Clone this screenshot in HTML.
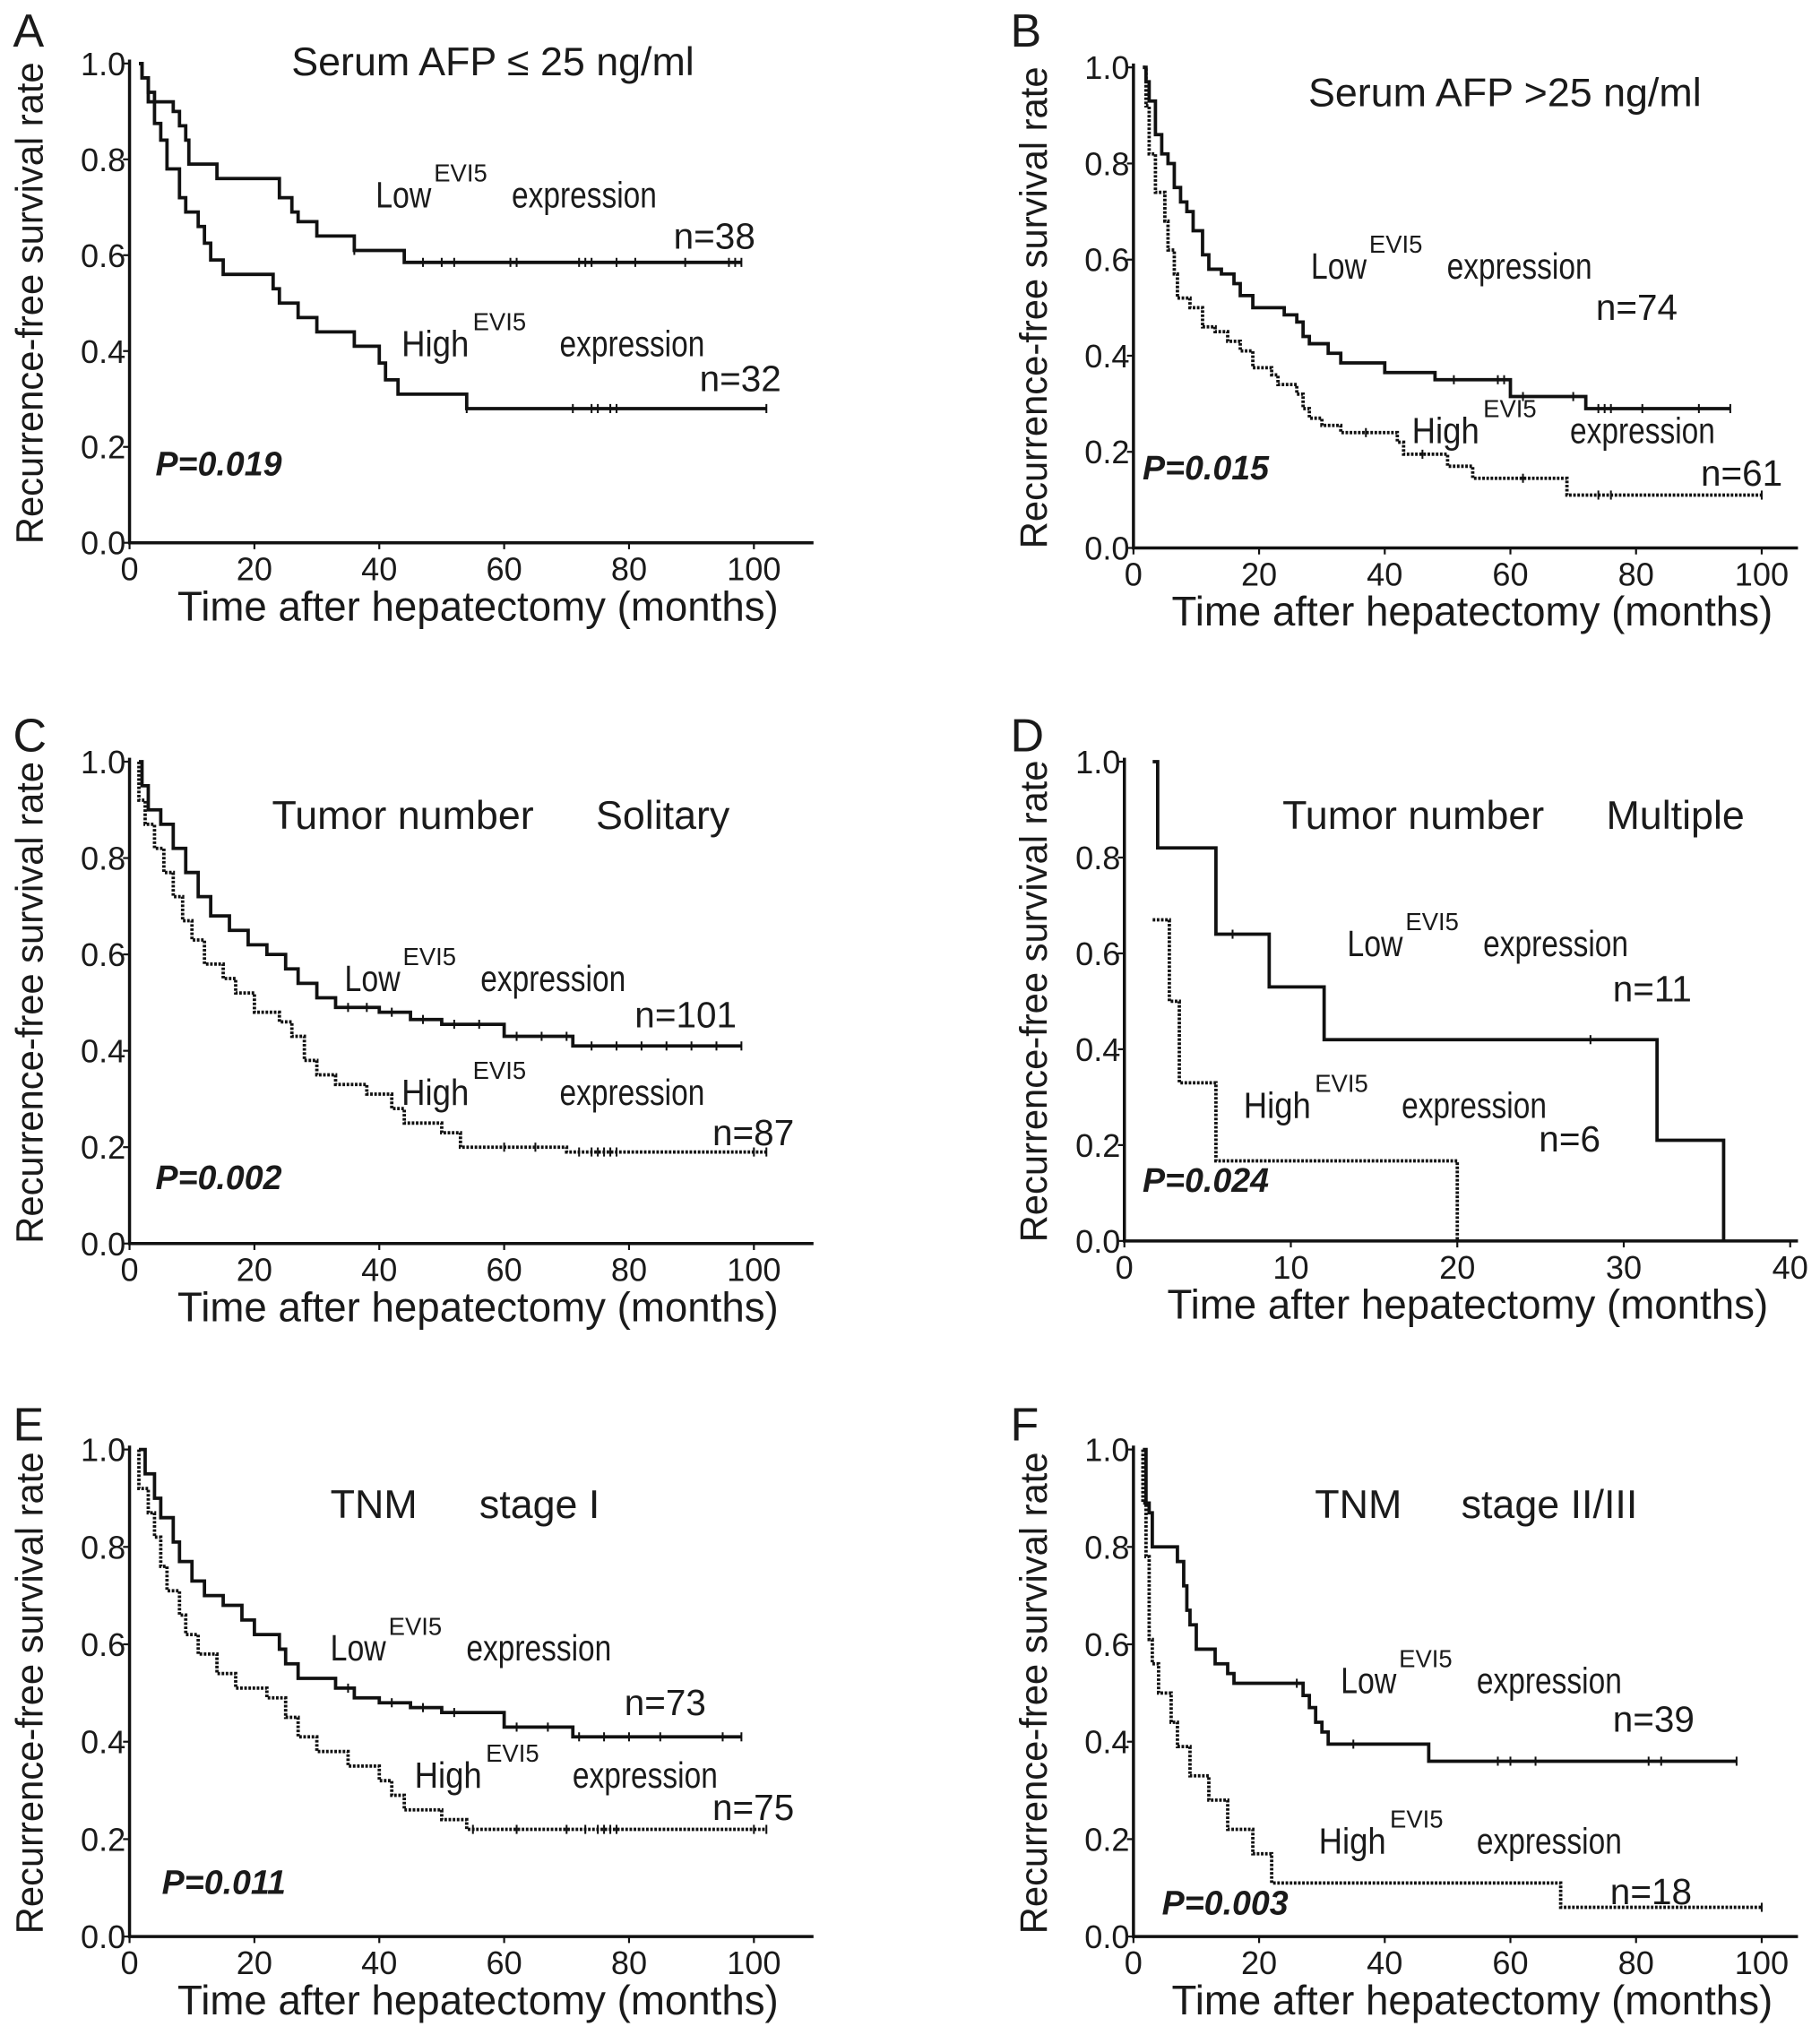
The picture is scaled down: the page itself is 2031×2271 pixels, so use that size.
<!DOCTYPE html>
<html><head><meta charset="utf-8">
<style>
html,body{margin:0;padding:0;background:#fff;}
svg{display:block;}
text{font-family:"Liberation Sans",Arial,sans-serif;fill:#1a1a1a;}
</style></head>
<body>
<svg id="fig" width="2031" height="2271" viewBox="0 0 1405 1571" xmlns="http://www.w3.org/2000/svg"></svg>
<script>
// ---------- DATA ----------
const xTicks100 = [0,20,40,60,80,100];
const xTicks40 = [0,10,20,30,40];
const yTicks = [0.0,0.2,0.4,0.6,0.8,1.0];
const yTickLabels = ["0.0","0.2","0.4","0.6","0.8","1.0"];

const aLowT = [1.5,2,3,7,8,9,9.5,14,24,26,27,30,36,44];
const aLowS = [1.0,0.97,0.92,0.9,0.87,0.84,0.79,0.76,0.72,0.69,0.67,0.64,0.61,0.585];
const aLowEnd = 98;
const aLowCens = [36,47,50,52,61,62,72,73,74,78,81,89,96,97,98];
const aHighT = [1.5,2,3,4,5,6,8,9,11,12,13,15,23,24,27,30,36,40,41,43,54];
const aHighS = [1.0,0.97,0.94,0.875,0.84,0.78,0.72,0.69,0.66,0.625,0.59,0.56,0.53,0.5,0.47,0.44,0.41,0.375,0.34,0.31,0.28];
const aHighEnd = 102;
const aHighCens = [54,71,74,75,77,78,102];

const bLowT = [1.5,2,2.5,3.5,4.5,5.5,6.5,7.5,8.5,9.5,11,12,14,16,17,19,24,26,27,28,31,33,40,48,60,72];
const bLowS = [1.0,0.97,0.93,0.86,0.82,0.8,0.75,0.72,0.7,0.66,0.61,0.58,0.57,0.55,0.525,0.5,0.485,0.47,0.44,0.425,0.405,0.385,0.365,0.35,0.315,0.29];
const bLowEnd = 95;
const bLowCens = [51,58,59,62,70,74,75,76,81,90,95];
const bHighT = [1.5,2,2.5,3.5,5,5.5,6.5,7,9,11,13,15,17,19,22,23,26,27,28,30,33,42,43,50,54,69];
const bHighS = [1.0,0.92,0.82,0.74,0.68,0.62,0.57,0.52,0.5,0.46,0.45,0.43,0.41,0.375,0.36,0.34,0.32,0.29,0.27,0.255,0.24,0.22,0.195,0.17,0.145,0.11];
const bHighEnd = 100;
const bHighCens = [37,46,62,74,76,100];

const cLowT = [1.5,2,3,5,7,9,11,13,16,19,22,25,27,30,33,40,45,50,60,71];
const cLowS = [1.0,0.95,0.9,0.87,0.82,0.77,0.72,0.68,0.65,0.62,0.6,0.57,0.54,0.51,0.49,0.48,0.465,0.455,0.43,0.41];
const cLowEnd = 98;
const cLowCens = [35,38,42,47,52,56,62,66,70,74,78,82,86,90,94,98];
const cHighT = [1.5,2.5,4,5.5,7,8.5,10,12,15,17,20,24,26,28,30,33,38,42,44,50,53,70];
const cHighS = [0.92,0.87,0.82,0.77,0.72,0.67,0.63,0.58,0.55,0.52,0.48,0.46,0.43,0.38,0.35,0.33,0.31,0.28,0.25,0.23,0.2,0.19];
const cHighEnd = 102;
const cHighCens = [60,65,72,74,75,76,77,78,100,102];

const dLowT = [1.7,2,5.5,8.7,12,32,36];
const dLowS = [1.0,0.82,0.64,0.53,0.42,0.21,0.0];
const dLowEnd = 36;
const dLowCens = [6.5,28];
const dHighT = [1.7,2.7,3.3,5.5,20];
const dHighS = [0.67,0.5,0.33,0.167,0.0];
const dHighEnd = 20;
const dHighCens = [];

const eLowT = [1.5,2.5,4,5,7,8,10,12,15,18,20,24,25,27,33,36,40,45,50,60,71];
const eLowS = [1.0,0.95,0.9,0.86,0.81,0.77,0.73,0.7,0.68,0.65,0.62,0.59,0.56,0.53,0.51,0.49,0.48,0.47,0.46,0.43,0.41];
const eLowEnd = 98;
const eLowCens = [35,42,47,52,62,67,72,76,80,85,95,98];
const eHighT = [1.5,3,4,5,6,8,9,11,14,17,22,25,27,30,35,40,42,44,50,54];
const eHighS = [0.92,0.87,0.82,0.76,0.71,0.66,0.62,0.58,0.54,0.51,0.49,0.45,0.41,0.38,0.35,0.32,0.29,0.26,0.24,0.22];
const eHighEnd = 102;
const eHighCens = [55,62,70,73,75,76,77,78,100,102];

const fLowT = [1.5,2,2.5,3,7,8,8.5,9,10,13,15,16,27,28,29,30,31,47];
const fLowS = [1.0,0.89,0.87,0.8,0.77,0.72,0.67,0.64,0.59,0.56,0.54,0.52,0.495,0.47,0.44,0.42,0.395,0.36];
const fLowEnd = 96;
const fLowCens = [26,35,58,60,64,82,84,96];
const fHighT = [1.5,2,2.5,3,4,6,7,9,12,15,19,22,68];
const fHighS = [0.89,0.78,0.61,0.56,0.5,0.44,0.39,0.33,0.28,0.22,0.17,0.11,0.06];
const fHighEnd = 100;
const fHighCens = [100];

// ---------- DRAW ----------
const NS = "http://www.w3.org/2000/svg";
const svg = document.getElementById('fig');
function mk(tag, attrs, parent){
  const e = document.createElementNS(NS, tag);
  for (const k in attrs) e.setAttribute(k, attrs[k]);
  (parent||svg).appendChild(e);
  return e;
}
function txt(parent, x, y, s, size, extra){
  const t = mk('text', Object.assign({x:x, y:y, 'font-size':size}, extra||{}), parent);
  t.textContent = s;
  return t;
}

const panels = [
 {id:'a', letter:'A', lx:10, ly:36, x0:100, xEnd:628, y1:49, y0:419, xmax:100, ticks:xTicks100, lowT:aLowT, lowS:aLowS, lowEnd:aLowEnd, lowC:aLowCens, hiT:aHighT, hiS:aHighS, hiEnd:aHighEnd, hiC:aHighCens, hiDotted:false, hiStart:1,
  title:[['Serum AFP ≤ 25  ng/ml',225,58]], low:[290,160], n1:['n=38',520,192], high:[310,275], n2:['n=32',540,302], p:['P=0.019',120,367], ytx:33},
 {id:'b', letter:'B', lx:780, ly:36, x0:875, xEnd:1388, y1:52, y0:423, xmax:100, ticks:xTicks100, lowT:bLowT, lowS:bLowS, lowEnd:bLowEnd, lowC:bLowCens, hiT:bHighT, hiS:bHighS, hiEnd:bHighEnd, hiC:bHighCens, hiDotted:true, hiStart:1,
  title:[['Serum AFP  >25  ng/ml',1010,82]], low:[1012,215], n1:['n=74',1232,247], high:[1090,342], n2:['n=61',1313,375], p:['P=0.015',882,370], ytx:808},
 {id:'c', letter:'C', lx:10, ly:580, x0:100, xEnd:628, y1:588, y0:960, xmax:100, ticks:xTicks100, lowT:cLowT, lowS:cLowS, lowEnd:cLowEnd, lowC:cLowCens, hiT:cHighT, hiS:cHighS, hiEnd:cHighEnd, hiC:cHighCens, hiDotted:true, hiStart:1,
  title:[['Tumor number',210,640],['Solitary',460,640]], low:[266,765], n1:['n=101',490,793], high:[310,853], n2:['n=87',550,884], p:['P=0.002',120,918], ytx:33},
 {id:'d', letter:'D', lx:780, ly:580, x0:868, xEnd:1388, y1:588, y0:958, xmax:40, ticks:xTicks40, lowT:dLowT, lowS:dLowS, lowEnd:dLowEnd, lowC:dLowCens, hiT:dHighT, hiS:dHighS, hiEnd:dHighEnd, hiC:dHighCens, hiDotted:true, hiStart:0.67,
  title:[['Tumor number',990,640],['Multiple',1240,640]], low:[1040,738], n1:['n=11',1245,773], high:[960,863], n2:['n=6',1188,889], p:['P=0.024',882,920], ytx:808},
 {id:'e', letter:'E', lx:10, ly:1112, x0:100, xEnd:628, y1:1119, y0:1495, xmax:100, ticks:xTicks100, lowT:eLowT, lowS:eLowS, lowEnd:eLowEnd, lowC:eLowCens, hiT:eHighT, hiS:eHighS, hiEnd:eHighEnd, hiC:eHighCens, hiDotted:true, hiStart:1,
  title:[['TNM',255,1172],['stage I',370,1172]], low:[255,1282], n1:['n=73',482,1324], high:[320,1380], n2:['n=75',550,1405], p:['P=0.011',125,1462], ytx:33},
 {id:'f', letter:'F', lx:780, ly:1112, x0:875, xEnd:1388, y1:1119, y0:1495, xmax:100, ticks:xTicks100, lowT:fLowT, lowS:fLowS, lowEnd:fLowEnd, lowC:fLowCens, hiT:fHighT, hiS:fHighS, hiEnd:fHighEnd, hiC:fHighCens, hiDotted:true, hiStart:1,
  title:[['TNM',1015,1172],['stage II/III',1128,1172]], low:[1035,1307], n1:['n=39',1245,1337], high:[1018,1431], n2:['n=18',1243,1470], p:['P=0.003',897,1478], ytx:808}
];

panels.forEach(P => {
  const g = mk('g', {});
  
  
  const xFull = P.id==='d' ? 1382 : (P.x0===100 ? 582 : 1360);
  const sx = v => P.x0 + v/P.xmax*(xFull-P.x0);
  const sy = v => P.y0 - v*(P.y0-P.y1);

  const L = txt(g, P.lx, P.ly, P.letter, 36);
  
  

  const ax = mk('path', {d:`M${P.x0},${P.y1-3} L${P.x0},${P.y0} L${P.xEnd},${P.y0}`, stroke:'#111', 'stroke-width':2.4, fill:'none'}, g);
  
  
  yTicks.forEach((v,i) => {
    mk('line', {x1:P.x0-5, x2:P.x0, y1:sy(v), y2:sy(v), stroke:'#111','stroke-width':1.5}, g);
    const t = txt(g, P.x0-3, sy(v)+9, yTickLabels[i], 25, {'text-anchor':'end'});
    
    
  });
  P.ticks.forEach(v => {
    mk('line', {x1:sx(v), x2:sx(v), y1:P.y0, y2:P.y0+5, stroke:'#111','stroke-width':1.5}, g);
    const t = txt(g, sx(v), P.y0+29, String(v), 25, {'text-anchor':'middle'});
    
    
  });
  const xt = txt(g, (P.x0+P.xEnd)/2 + 5, P.y0+60, 'Time after hepatectomy (months)', 32, {'text-anchor':'middle', textLength:464, lengthAdjust:'spacingAndGlyphs'});
  
  
  const ym = (P.y0+P.y1)/2;
  const yt = txt(g, P.ytx, ym, 'Recurrence-free survival rate', 29.5, {'text-anchor':'middle', transform:`rotate(-90 ${P.ytx} ${ym})`, textLength:372, lengthAdjust:'spacingAndGlyphs'});
  
  

  function curve(T, S, end, cens, dotted, name, start){
    let d = `M${sx(T[0])},${sy(start)}`;
    for (let i=0;i<T.length;i++){
      d += ` L${sx(T[i])},${sy(i===0?start:S[i-1])} L${sx(T[i])},${sy(S[i])}`;
    }
    d += ` L${sx(end)},${sy(S[S.length-1])}`;
    const p = mk('path', {d:d, fill:'none', stroke:'#111', 'stroke-width':2.6, 'stroke-dasharray': dotted?'2 1.2':'none'}, g);
    
    
    cens.forEach(c => {
      let s = start;
      for (let i=0;i<T.length;i++) if (T[i]<=c) s = S[i];
      const m = mk('line', {x1:sx(c), x2:sx(c), y1:sy(s)-3.5, y2:sy(s)+3.5, stroke:'#111','stroke-width':1.4}, g);
      
      
    });
  }
  curve(P.lowT, P.lowS, P.lowEnd, P.lowC, false, 'low-evi5-curve', 1);
  curve(P.hiT, P.hiS, P.hiEnd, P.hiC, P.hiDotted, 'high-evi5-curve', P.hiStart);

  P.title.forEach(tt => {
    const t = txt(g, tt[1], tt[2], tt[0], 31, {'xml:space':'preserve'});
    
    
  });
  function label(word, pos, name){
    const lg = mk('g', {}, g);
    
    
    const sOff = word==='Low' ? 45 : 55;
    const eOff = word==='Low' ? 105 : 122;
    txt(lg, pos[0], pos[1], word, 28, {textLength: word==='Low'?43:52, lengthAdjust:'spacingAndGlyphs'});
    txt(lg, pos[0]+sOff, pos[1]-20, 'EVI5', 19);
    txt(lg, pos[0]+eOff, pos[1], 'expression', 28, {textLength:112, lengthAdjust:'spacingAndGlyphs'});
  }
  label('Low', P.low, 'low-expression-label');
  label('High', P.high, 'high-expression-label');
  const n1 = txt(g, P.n1[1], P.n1[2], P.n1[0], 28);
  
  
  const n2 = txt(g, P.n2[1], P.n2[2], P.n2[0], 28);
  
  
  const pv = txt(g, P.p[1], P.p[2], P.p[0], 26, {'font-weight':'bold','font-style':'italic'});
  
  
});
</script>
</body></html>
